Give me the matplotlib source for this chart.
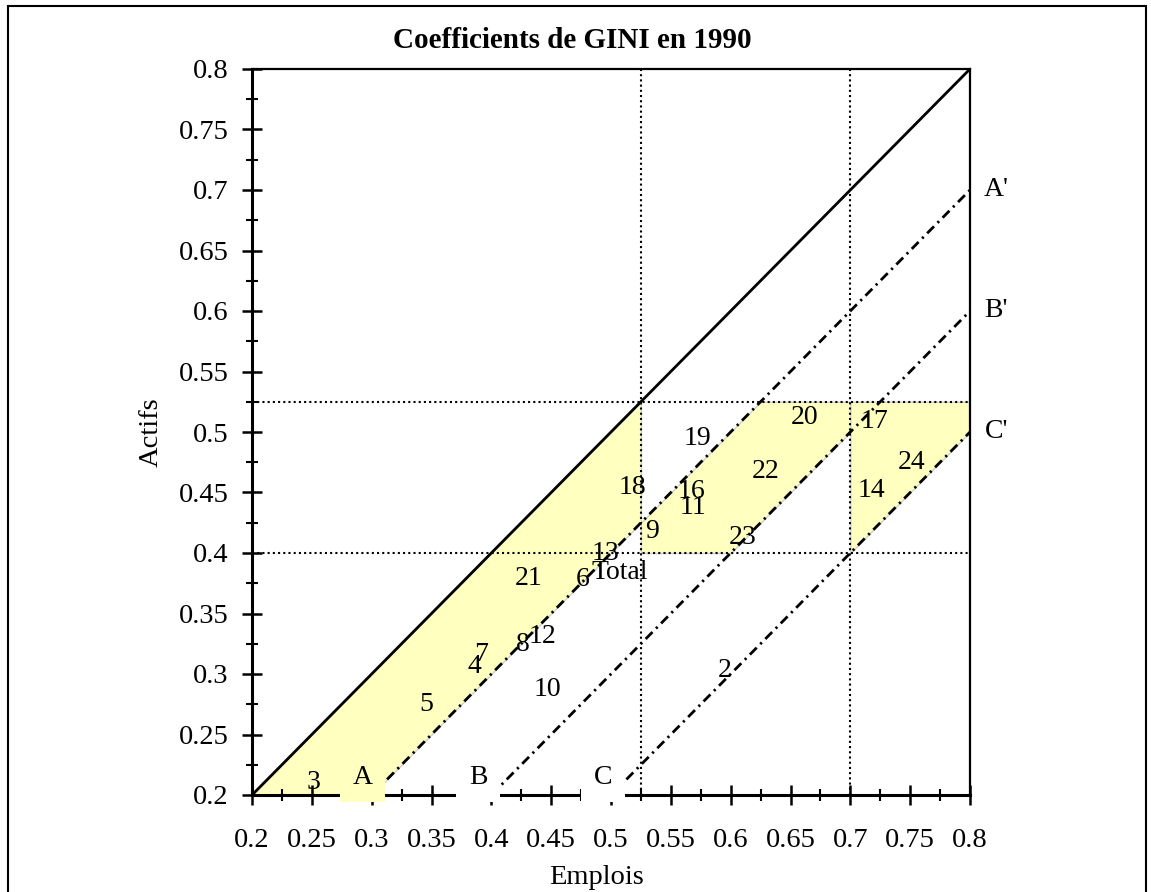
import numpy as np
import matplotlib
matplotlib.use("Agg")
import matplotlib.pyplot as plt
from matplotlib.ticker import MultipleLocator, FormatStrFormatter
from matplotlib.patches import Rectangle

plt.rcParams['font.family'] = ['Liberation Serif', 'DejaVu Serif']

# data
band_names = ["A", "B", "C"]
band_offsets = [0.1, 0.2, 0.3]
band_label_x = [0.2925, 0.389, 0.4935]
h_thresholds = [0.4, 0.525]
v_thresholds = [0.525, 0.7]

point_labels = ["3", "5", "7", "4", "8", "12", "10", "21", "6", "Total", "13", "18",
                "9", "19", "16", "11", "22", "20", "23", "17", "14", "24", "2"]
point_x = [0.251, 0.346, 0.391, 0.386, 0.4265, 0.443, 0.447, 0.4315, 0.4766, 0.5075,
           0.495, 0.518, 0.534, 0.572, 0.567, 0.5685, 0.6295, 0.662, 0.610, 0.7198,
           0.718, 0.7515, 0.595]
point_y = [0.210, 0.275, 0.316, 0.3066, 0.324, 0.331, 0.2876, 0.379, 0.3785, 0.384,
           0.400, 0.4545, 0.418, 0.495, 0.451, 0.438, 0.467, 0.5116, 0.4124, 0.509,
           0.452, 0.4744, 0.3025]

lo, hi = 0.2, 0.8
yellow = "#FFFFC0"
dashdot = (0, (3.5, 1.8, 0.8, 1.8))
dotted = (0, (1, 1.5))

fig = plt.figure(figsize=(11.51, 8.92), dpi=100)
ax = fig.add_axes([252/1151, 1-795/892, 718/1151, 726/892])
ax.set_xlim(lo, hi)
ax.set_ylim(lo, hi)

# outer frame
fig.patches.append(Rectangle((8/1151, -0.05), 1138/1151, 1.05-6/892, transform=fig.transFigure,
                             fill=False, edgecolor="black", linewidth=1.5))

# shaded zones
xa = np.union1d(np.linspace(lo, v_thresholds[0], 200), [lo + band_offsets[0]])
ax.fill_between(xa, xa, np.maximum(xa - band_offsets[0], lo), facecolor=yellow,
                edgecolor="#d0d0d0", linewidth=1, zorder=1)
xb = np.union1d(np.linspace(v_thresholds[0], v_thresholds[1], 200),
                [h_thresholds[1] + band_offsets[0], h_thresholds[0] + band_offsets[1]])
ax.fill_between(xb, np.minimum(xb - band_offsets[0], h_thresholds[1]),
                np.maximum(xb - band_offsets[1], h_thresholds[0]), facecolor=yellow,
                edgecolor="#d0d0d0", linewidth=1, zorder=1)
xc = np.linspace(v_thresholds[1], hi, 100)
ax.fill_between(xc, np.full_like(xc, h_thresholds[1]), xc - band_offsets[2], facecolor=yellow,
                edgecolor="#d0d0d0", linewidth=1, zorder=1)

# dotted thresholds
for h in h_thresholds:
    ax.plot([lo, hi], [h, h], color="black", linewidth=1.5, linestyle=dotted, zorder=2)
for v in v_thresholds:
    ax.plot([v, v], [lo, hi], color="black", linewidth=1.5, linestyle=dotted, zorder=2)

# diagonal and bands
ax.plot([lo, hi], [lo, hi], color="black", linewidth=2, zorder=3)
for name, off, lx in zip(band_names, band_offsets, band_label_x):
    ax.plot([lo + off, hi], [lo, hi - off], color="black", linewidth=2,
            linestyle=dashdot, zorder=3)
    bg = yellow if name == "A" else "white"
    ax.text(lx, lo + 0.0145, name, fontsize=20, ha="center", va="center", zorder=6,
            clip_on=False, bbox=dict(boxstyle="square,pad=0.45", facecolor=bg, edgecolor="none"))
    ax.text(hi + 0.022, hi - off, name + "'", fontsize=20, ha="center", va="center", clip_on=False)

for lab, x, y in zip(point_labels, point_x, point_y):
    ax.text(x, y, lab, fontsize=20, ha="center", va="center", zorder=4)

# axes styling
ax.spines["left"].set_linewidth(2.2)
ax.spines["bottom"].set_linewidth(2.2)
ax.spines["top"].set_linewidth(1.6)
ax.spines["right"].set_linewidth(1.6)
ax.xaxis.set_major_locator(MultipleLocator(0.05))
ax.xaxis.set_minor_locator(MultipleLocator(0.025))
ax.yaxis.set_major_locator(MultipleLocator(0.05))
ax.yaxis.set_minor_locator(MultipleLocator(0.025))
ax.xaxis.set_major_formatter(FormatStrFormatter("%g"))
ax.yaxis.set_major_formatter(FormatStrFormatter("%g"))
ax.tick_params(which="major", direction="inout", length=14, width=1.8, labelsize=20.5)
ax.tick_params(which="minor", direction="inout", length=8, width=1.5)
ax.tick_params(axis="x", which="major", pad=17)
ax.tick_params(axis="y", which="major", pad=10)

ax.set_title("Coefficients de GINI en 1990", fontsize=21, fontweight="bold", pad=15, x=0.446)
ax.set_xlabel("Emplois", fontsize=20.5)
ax.set_ylabel("Actifs", fontsize=20.5)
ax.xaxis.set_label_coords(0.48, -0.097)
ax.yaxis.set_label_coords(-0.123, 0.5)

fig.savefig("out.png", dpi=100)
